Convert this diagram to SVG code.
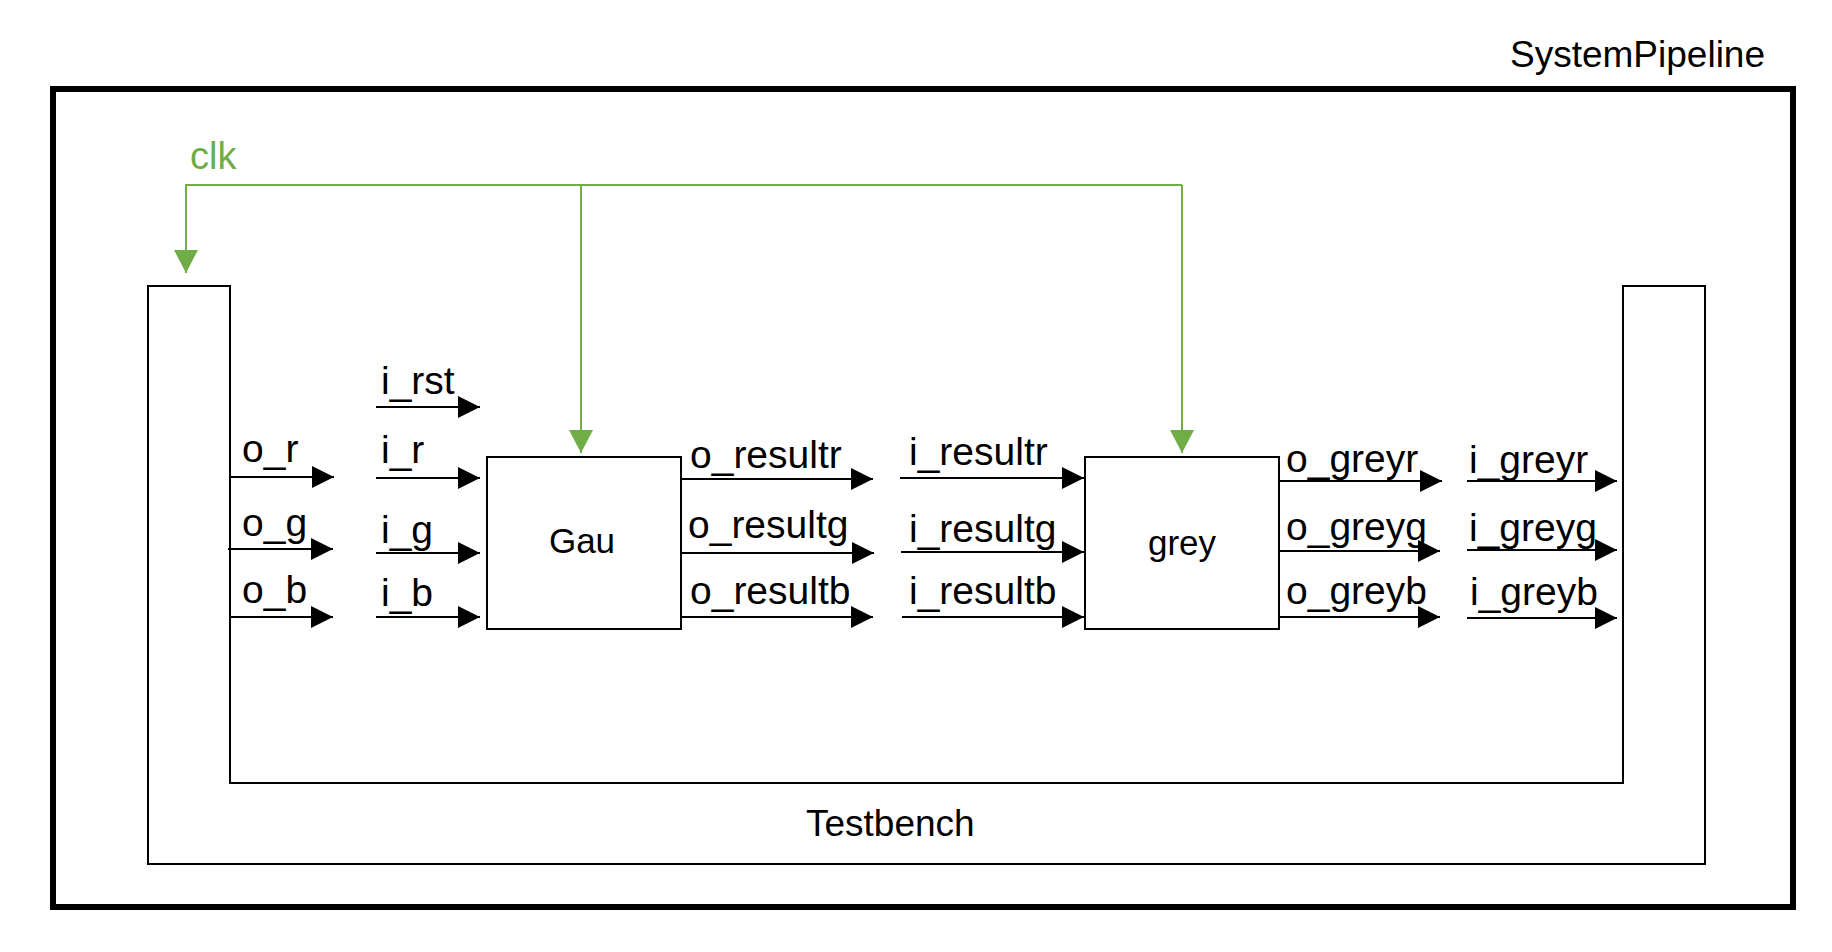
<svg xmlns="http://www.w3.org/2000/svg" width="1832" height="952" viewBox="0 0 1832 952">
  <defs>
    <marker id="ah" markerUnits="userSpaceOnUse" markerWidth="22" markerHeight="22" refX="22" refY="11" orient="auto">
      <path d="M0,0 L22,11 L0,22 z" fill="#000"/>
    </marker>
    <marker id="gh" markerUnits="userSpaceOnUse" markerWidth="23" markerHeight="24" refX="23" refY="12" orient="auto">
      <path d="M0,0 L23,12 L0,24 z" fill="#70AD47"/>
    </marker>
  </defs>
  <style>
    text { font-family: "Liberation Sans", Arial, sans-serif; fill: #000; }
    .lbl { font-size: 39px; }
    .blk { font-size: 35px; text-anchor: middle; }
    .sig { stroke: #000; stroke-width: 2; fill: none; marker-end: url(#ah); }
    .clk { stroke: #70AD47; stroke-width: 2; fill: none; }
    .clka { marker-end: url(#gh); }
    .box { stroke: #000; stroke-width: 2; fill: #fff; }
  </style>
  <rect width="1832" height="952" fill="#fff"/>

  <g id="SystemPipeline">
    <rect x="53" y="89" width="1740" height="818" fill="none" stroke="#000" stroke-width="6"/>
    <text x="1510" y="67" style="font-size:37px">SystemPipeline</text>
  </g>

  <g id="Testbench">
    <path d="M148,286 V864 H1705 V286 H1623 V783 H230 V286 Z" fill="none" stroke="#000" stroke-width="2"/>
    <text x="806" y="836" style="font-size:37px">Testbench</text>
  </g>

  <g id="Gau">
    <rect class="box" x="487" y="457" width="194" height="172"/>
    <text class="blk" x="582" y="553">Gau</text>
  </g>

  <g id="grey">
    <rect class="box" x="1085" y="457" width="194" height="172"/>
    <text class="blk" x="1182" y="555">grey</text>
  </g>

  <g id="connectors">
    <g id="clock">
      <path class="clk" d="M185,185 H1182"/>
      <path class="clk clka" d="M186,185 V273"/>
      <path class="clk clka" d="M581,185 V453"/>
      <path class="clk clka" d="M1182,185 V453"/>
    </g>
    <path class="sig" d="M230,477 H334"/>
    <path class="sig" d="M228,549 H333"/>
    <path class="sig" d="M230,617 H333"/>
    <path class="sig" d="M376,407 H480"/>
    <path class="sig" d="M376,478 H480"/>
    <path class="sig" d="M376,553 H480"/>
    <path class="sig" d="M376,617 H480"/>
    <path class="sig" d="M681,479 H873"/>
    <path class="sig" d="M681,553 H874"/>
    <path class="sig" d="M681,617 H873"/>
    <path class="sig" d="M900,478 H1084"/>
    <path class="sig" d="M901,552 H1084"/>
    <path class="sig" d="M902,617 H1084"/>
    <path class="sig" d="M1279,481 H1442"/>
    <path class="sig" d="M1279,551 H1440"/>
    <path class="sig" d="M1279,617 H1440"/>
    <path class="sig" d="M1467,481 H1617"/>
    <path class="sig" d="M1467,550 H1617"/>
    <path class="sig" d="M1467,618 H1617"/>
  </g>

  <g id="labels">
    <text x="190" y="169" style="font-size:38px;fill:#70AD47">clk</text>
    <text class="lbl" x="381" y="394">i_rst</text>
    <text class="lbl" x="242" y="462">o_r</text>
    <text class="lbl" x="381" y="463">i_r</text>
    <text class="lbl" x="242" y="536">o_g</text>
    <text class="lbl" x="381" y="543">i_g</text>
    <text class="lbl" x="242" y="603">o_b</text>
    <text class="lbl" x="381" y="606">i_b</text>
    <text class="lbl" x="690" y="468">o_resultr</text>
    <text class="lbl" x="688" y="538">o_resultg</text>
    <text class="lbl" x="690" y="604">o_resultb</text>
    <text class="lbl" x="909" y="465">i_resultr</text>
    <text class="lbl" x="909" y="542">i_resultg</text>
    <text class="lbl" x="909" y="604">i_resultb</text>
    <text class="lbl" x="1286" y="472">o_greyr</text>
    <text class="lbl" x="1286" y="540">o_greyg</text>
    <text class="lbl" x="1286" y="604">o_greyb</text>
    <text class="lbl" x="1469" y="473">i_greyr</text>
    <text class="lbl" x="1469" y="541">i_greyg</text>
    <text class="lbl" x="1470" y="605">i_greyb</text>
  </g>
</svg>
